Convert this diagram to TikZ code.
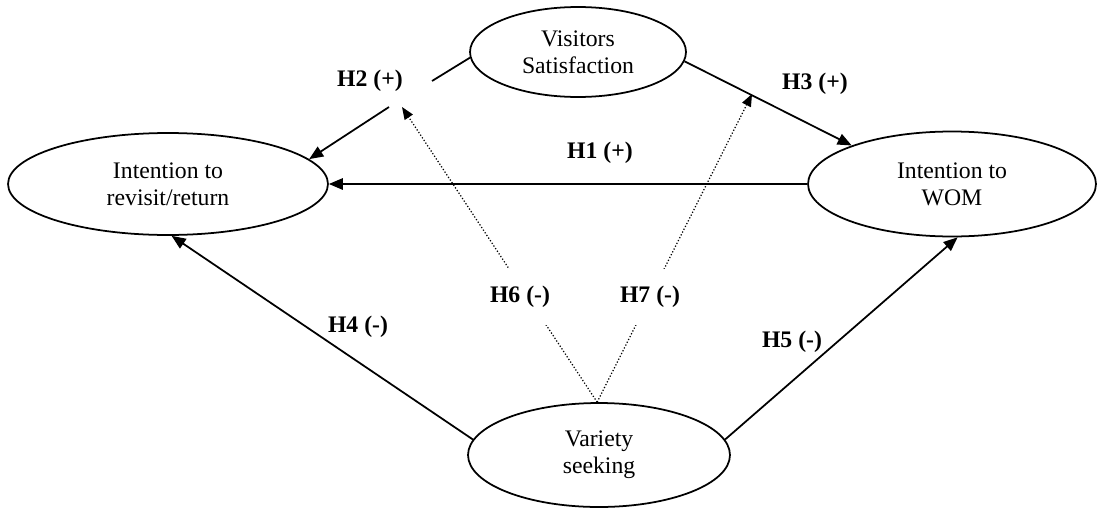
\documentclass[tikz,border=0pt]{standalone}
\usepackage{fontspec}
\setmainfont{Liberation Serif}
\usepackage{tikz}
\usetikzlibrary{shapes.geometric, arrows.meta, positioning, calc}
\tikzset{
    construct/.style={ellipse, draw=black, line width=1pt, inner sep=0pt, align=center, text centered},
    causal/.style   ={-{Triangle[length=8pt, width=6.5pt]}, line width=1pt},
    plainline/.style={line width=1pt},
    modline/.style  ={-{Triangle[length=7pt, width=5.5pt]}, line width=0.7pt, dash pattern=on 0.7pt off 1.1pt},
    hyp/.style      ={font=\fontsize{13.5}{15.5}\selectfont\bfseries, inner sep=1pt},
    gaphyp/.style   ={hyp, fill=white, inner xsep=1pt, inner ysep=10pt},
}

\begin{document}
\begin{tikzpicture}[x=0.02cm, y=-0.02cm, font=\fontsize{13.5}{15.4}\selectfont]
                \useasboundingbox (0,0) rectangle (1098,507);
                % constructs
                \node[construct, minimum width=6.4cm, minimum height=2.04cm] (rev) at (168,184) {Intention to\\revisit/return};
                \node[construct, minimum width=4.32cm, minimum height=1.8cm] (sat) at (578,52) {Visitors\\Satisfaction};
                \node[construct, minimum width=5.76cm, minimum height=2.1cm] (wom) at (952,184) {Intention to\\WOM};
                \node[construct, minimum width=5.24cm, minimum height=2.08cm] (var) at (599,455) {Variety\\seeking};
                % where the moderators point
                \coordinate (g2a) at (432,81);
                \coordinate (g2b) at (389,107);
                \coordinate (m6) at (402,107);
                \coordinate (m7) at (752,94);
                % direct effects
                \draw[causal] (wom.west) -- (rev.east);
                \draw[plainline] (sat.183) -- (g2a);
                \draw[causal] (g2b) -- (rev.10);
                \draw[causal] (sat.-5) -- (wom.159);
                \draw[causal] (var.173) -- (rev.-86);
                \draw[causal] (var.7) -- (wom.-84);
                % moderating effects
                \draw[modline] (var.92) -- (m6);
                \draw[modline] (var.92) -- (m7);
                % labels
                \node[hyp] (h1) at (600,153) {H1 (+)};
                \node[hyp] (h2) at (370,81) {H2 (+)};
                \node[hyp] (h3) at (815,84) {H3 (+)};
                \node[hyp] (h4) at (358,327) {H4 (-)};
                \node[hyp] (h5) at (792,342) {H5 (-)};
                \node[gaphyp] (h6) at (520,297) {H6 (-)};
                \node[gaphyp] (h7) at (650,297) {H7 (-)};
            \end{tikzpicture}
\end{document}
